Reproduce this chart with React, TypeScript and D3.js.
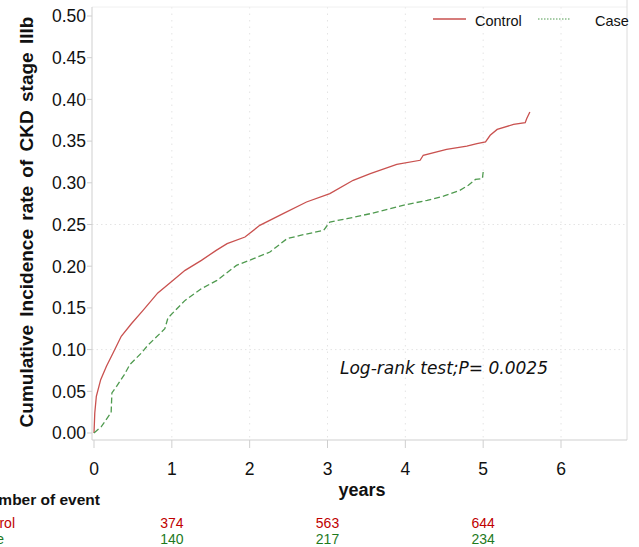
import * as d3 from "d3";

// cumulative incidence (years, rate)
const controlTimes = [0, 0.01, 0.03, 0.086, 0.16, 0.245, 0.35, 0.48, 0.63, 0.82, 0.99, 1.17, 1.38, 1.57, 1.71, 1.94, 2.13, 2.43, 2.73, 3.03, 3.33, 3.55, 3.89, 4.19, 4.23, 4.53, 4.79, 4.92, 5.03, 5.09, 5.18, 5.39, 5.54, 5.56, 5.6];
const controlRates = [0, 0.024, 0.044, 0.064, 0.08, 0.096, 0.116, 0.131, 0.147, 0.168, 0.181, 0.195, 0.207, 0.219, 0.227, 0.235, 0.249, 0.263, 0.277, 0.287, 0.303, 0.311, 0.322, 0.327, 0.333, 0.34, 0.344, 0.347, 0.349, 0.357, 0.364, 0.37, 0.372, 0.377, 0.385];

const caseTimes = [0, 0.094, 0.2, 0.22, 0.23, 0.29, 0.39, 0.46, 0.61, 0.69, 0.91, 0.95, 1.17, 1.38, 1.58, 1.83, 2.05, 2.26, 2.48, 2.65, 2.95, 3.03, 3.25, 3.55, 3.8, 4.02, 4.28, 4.49, 4.7, 4.81, 4.9, 4.99, 5.0];
const caseRates = [0, 0.0076, 0.022, 0.024, 0.048, 0.056, 0.07, 0.082, 0.096, 0.105, 0.125, 0.138, 0.159, 0.173, 0.183, 0.201, 0.209, 0.217, 0.233, 0.237, 0.243, 0.253, 0.257, 0.263, 0.269, 0.274, 0.279, 0.284, 0.291, 0.297, 0.304, 0.305, 0.313];

const yTicks = [0, 0.05, 0.1, 0.15, 0.2, 0.25, 0.3, 0.35, 0.4, 0.45, 0.5];
const xTicks = [0, 1, 2, 3, 4, 5, 6];
const yGrid = [0.1, 0.25];

const eventYears = [1, 3, 5];
const controlEvents = [374, 563, 644];
const caseEvents = [140, 217, 234];

const RED = "#c9514f";
const GREEN = "#4f9a4f";
const font = "'Liberation Sans', Arial, sans-serif";

export default function App() {
  const width = 639;
  const height = 547;

  const x = d3.scaleLinear().domain([0, 6]).range([94, 561]);
  const y = d3.scaleLinear().domain([0, 0.5]).range([433, 16]);

  const frame = { left: 92, right: 627, top: 7, bottom: 440 };

  const line = d3
    .line<[number, number]>()
    .x((d) => x(d[0]))
    .y((d) => y(d[1]))
    .curve(d3.curveLinear);

  const control = controlTimes.map((t, i) => [t, controlRates[i]] as [number, number]);
  const cases = caseTimes.map((t, i) => [t, caseRates[i]] as [number, number]);

  return (
    <div style={{ position: "absolute", left: 0, top: 0, width, height, background: "#fff" }}>
      <svg width={width} height={height} style={{ display: "block" }} fontFamily={font}>
        {/* grid */}
        {xTicks.slice(1).map((t) => (
          <line key={`gx-${t}`} x1={x(t)} x2={x(t)} y1={frame.top} y2={frame.bottom} stroke="#e4e4e4" strokeDasharray="1.5,5" />
        ))}
        {yGrid.map((v) => (
          <line key={`gy-${v}`} x1={frame.left} x2={frame.right} y1={y(v)} y2={y(v)} stroke="#e4e4e4" strokeDasharray="1.5,3" />
        ))}

        {/* frame */}
        <line x1={frame.left} x2={frame.right} y1={frame.top} y2={frame.top} stroke="#f0f0f0" />
        <line x1={frame.right} x2={frame.right} y1={0} y2={frame.bottom} stroke="#dcdcdc" />
        <line x1={frame.left} x2={frame.left} y1={frame.top} y2={frame.bottom} stroke="#cfcfcf" />
        <line x1={frame.left} x2={frame.right} y1={frame.bottom} y2={frame.bottom} stroke="#cfcfcf" />

        {/* y axis */}
        {yTicks.map((v) => (
          <g key={`y-${v}`}>
            <line x1={frame.left - 5} x2={frame.left} y1={y(v)} y2={y(v)} stroke="#cfcfcf" />
            <text x={86} y={y(v)} dy="0.36em" textAnchor="end" fontSize={17.5} fill="#111">
              {d3.format(".2f")(v)}
            </text>
          </g>
        ))}
        <text
          transform={`translate(33,222) rotate(-90)`}
          textAnchor="middle"
          fontSize={19}
          fontWeight="bold"
          fill="#111"
          style={{ wordSpacing: "3px" }}
        >
          Cumulative Incidence rate of CKD stage IIIb
        </text>

        {/* x axis */}
        {xTicks.map((t) => (
          <g key={`x-${t}`}>
            <line x1={x(t)} x2={x(t)} y1={frame.bottom} y2={frame.bottom + 8} stroke="#cfcfcf" />
            <text x={x(t)} y={475} textAnchor="middle" fontSize={17.5} fill="#111">
              {t}
            </text>
          </g>
        ))}
        <text x={362} y={496} textAnchor="middle" fontSize={18} fontWeight="bold" fill="#111">
          years
        </text>

        {/* curves */}
        <path d={line(control) ?? ""} fill="none" stroke={RED} strokeWidth={1.3} />
        <path d={line(cases) ?? ""} fill="none" stroke={GREEN} strokeWidth={1.3} strokeDasharray="6,3" />

        {/* legend */}
        <line x1={433} x2={466} y1={19} y2={19} stroke={RED} strokeWidth={1.3} />
        <text x={475} y={26} fontSize={14.5} fill="#111">Control</text>
        <line x1={538} x2={571} y1={19} y2={19} stroke={GREEN} strokeWidth={1} strokeDasharray="1.5,1.5" />
        <text x={595} y={26} fontSize={14.5} fill="#111">Case</text>

        <text x={340} y={374} fontSize={17} fontStyle="italic" fontFamily="'DejaVu Sans', Verdana, sans-serif" fill="#111">
          Log-rank test;P= 0.0025
        </text>

        {/* events table */}
        <text x={100} y={505} textAnchor="end" fontSize={15.5} fontWeight="bold" fill="#111">
          Number of event
        </text>
        <text x={15} y={527.5} textAnchor="end" fontSize={14} fill="#c00000">Control</text>
        <text x={4} y={544} textAnchor="end" fontSize={14} fill="#1e7a1e">Case</text>
        {eventYears.map((t, i) => (
          <g key={`ev-${t}`}>
            <text x={x(t)} y={527.5} textAnchor="middle" fontSize={14} fill="#c00000">
              {controlEvents[i]}
            </text>
            <text x={x(t)} y={544} textAnchor="middle" fontSize={14} fill="#1e7a1e">
              {caseEvents[i]}
            </text>
          </g>
        ))}
      </svg>
    </div>
  );
}
